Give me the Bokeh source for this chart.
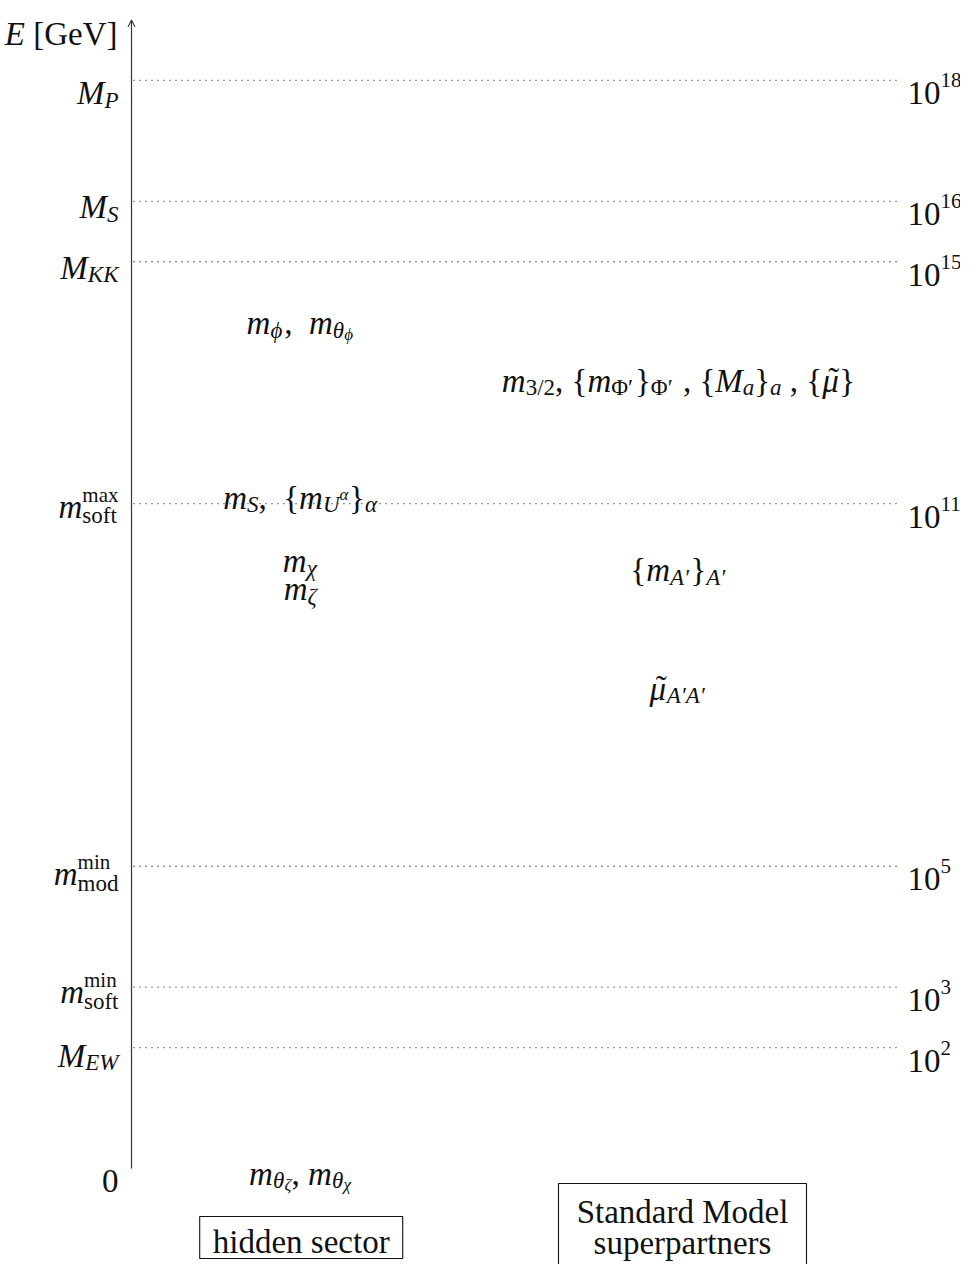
from bokeh.plotting import figure
from bokeh.models import ColumnDataSource, Range1d, Arrow, OpenHead
from bokeh.embed import file_html
from bokeh.resources import INLINE
from bokeh.core.properties import value

# ---------------- data ----------------
# energy scales (log10 E / GeV) marked on the axis
scale_exponents = [18, 16, 15, 11, 5, 3, 2]
scale_names = [
    [("M", "b", "i"), ("P", "sub", "i")],
    [("M", "b", "i"), ("S", "sub", "i")],
    [("M", "b", "i"), ("KK", "sub", "i")],
    [("m", "b", "i"), (("soft", "max"), "subsup", "n")],
    [("m", "b", "i"), (("mod", "min"), "subsup", "n")],
    [("m", "b", "i"), (("soft", "min"), "subsup", "n")],
    [("M", "b", "i"), ("EW", "sub", "i")],
]
exponent_labels = ["18", "16", "15", "11", "5", "3", "2"]
axis_title = [("E", "b", "i"), (" [GeV]", "b", "n")]
axis_top = 19
zero_level = 0
zero_label = "0"

# hidden sector masses
hidden_levels = [14, 11, 10, 10, 0]
hidden_masses = [
    [("m", "b", "i"), ("ϕ", "sub", "i"), (",", "b", "n"), ("  m", "b", "i"), ("θ", "sub", "i"), ("ϕ", "ss", "i")],
    [("m", "b", "i"), ("S", "sub", "i"), (",", "b", "n"), ("  {", "b", "n"), ("m", "b", "i"), ("U", "sub", "i"),
     ("α", "ssup", "i"), ("}", "b", "n"), ("α", "sub", "i")],
    [("m", "b", "i"), ("χ", "sub", "i")],
    [("m", "b", "i"), ("ζ", "sub", "i")],
    [("m", "b", "i"), ("θ", "sub", "i"), ("ζ", "ss", "i"), (",", "b", "n"), (" m", "b", "i"), ("θ", "sub", "i"),
     ("χ", "ss", "i")],
]
# Standard Model superpartner masses
sm_levels = [13, 10, 8]
sm_masses = [
    [("m", "b", "i"), ("3/2", "sub", "n"), (",", "b", "n"), (" {", "b", "n"), ("m", "b", "i"), ("Φ′", "sub", "n"),
     ("}", "b", "n"), ("Φ′", "sub", "n"), (" ,", "b", "n"), (" {", "b", "n"), ("M", "b", "i"), ("a", "sub", "i"),
     ("}", "b", "n"), ("a", "sub", "i"), (" ,", "b", "n"), (" {", "b", "n"), ("μ", "b", "i"), ("˜", "acc", "n"),
     ("}", "b", "n")],
    [("{", "b", "n"), ("m", "b", "i"), ("A′", "sub", "i"), ("}", "b", "n"), ("A′", "sub", "i")],
    [("μ", "b", "i"), ("˜", "acc", "n"), ("A′A′", "sub", "i")],
]
sector_names = [["hidden sector"], ["Standard Model", "superpartners"]]

# ---------------- layout / style ----------------
FONT = "Liberation Serif"
SIZE = {"b": 33, "sub": 23, "sup": 21, "ss": 17, "ssup": 17, "acc": 33}
SHIFT = {"b": 0, "sub": 7, "sup": -13, "ss": 11, "ssup": -3, "acc": -1}
SUBSUP = (9, -12)
W_N = {' ': 250, '[': 333, ']': 333, 'G': 722, 'e': 444, 'V': 722, 'S': 556, 't': 278, 'a': 444, 'n': 500,
       'd': 500, 'r': 333, 'M': 889, 'o': 500, 'l': 278, 's': 389, 'u': 500, 'p': 500, 'h': 500, 'i': 278,
       'c': 444, 'x': 500, 'f': 333, 'm': 778, ',': 250, '/': 278, '{': 480, '}': 480, '′': 275, 'Φ': 760,
       '˜': 333}
for d in "0123456789":
    W_N[d] = 500
W_I = {'E': 611, 'M': 833, 'P': 611, 'K': 667, 'W': 833, 'S': 500, 'm': 722, 'U': 722, 'A': 611, 'a': 500,
       'α': 560, 'χ': 500, 'ζ': 420, 'θ': 500, 'ϕ': 600, 'μ': 520}

PX_PER_DEC = 60.45
ZERO_PY = 1168.0


def ey(py):
    return (ZERO_PY - py) / PX_PER_DEC


def tw(t, size, italic):
    tot = 0
    for c in t:
        if italic and c in W_I:
            tot += W_I[c]
        else:
            tot += W_N.get(c, 500)
    return tot * size / 1000.0


rows = dict(x=[], y=[], text=[], dx=[], dy=[], size=[], style=[])


def place(segs, x, y, align, base_dy):
    items = []
    cur = 0.0
    last = (0.0, 0.0)
    for t, pos, st in segs:
        it = st == "i"
        if pos == "subsup":
            sub, sup = t
            w1 = tw(sub, SIZE["sub"], it)
            w2 = tw(sup, SIZE["sup"], it)
            items.append((sub, cur, SUBSUP[0], SIZE["sub"], it))
            items.append((sup, cur, SUBSUP[1], SIZE["sup"], it))
            last = (cur, max(w1, w2))
            cur += max(w1, w2)
        elif pos == "acc":
            s = SIZE[pos]
            w = tw(t, s, it)
            items.append((t, last[0] + last[1] / 2 - w / 2 + 3, SHIFT[pos], s, it))
        else:
            s = SIZE[pos]
            lead = len(t) - len(t.lstrip(" "))
            x0 = cur + tw(" " * lead, s, it)
            items.append((t.strip(" "), x0, SHIFT[pos], s, it))
            last = (x0, tw(t.strip(" "), s, it))
            cur += tw(t, s, it)
    start = {"left": 0.0, "right": -cur, "center": -cur / 2.0}[align]
    for t, ox, oy, s, it in items:
        rows["x"].append(x)
        rows["y"].append(y)
        rows["text"].append(t)
        rows["dx"].append(start + ox)
        rows["dy"].append(base_dy + oy)
        rows["size"].append(f"{s}px")
        rows["style"].append("italic" if it else "normal")


AX_X = 131
LEFT_X = 118
RIGHT_X = 907
LINE_END = 900
HID_X = 300
SM_X = 678

left_dy = [13, 6, 6, 3, 8, 5, 8]
for lev, segs, bdy in zip(scale_exponents, scale_names, left_dy):
    place(segs, LEFT_X, lev, "right", bdy)
for lev, ex in zip(scale_exponents, exponent_labels):
    place([("10", "b", "n"), (ex, "sup", "n")], RIGHT_X, lev, "left", 13)
place(axis_title, 117, axis_top, "right", 14.5)
place([(zero_label, "b", "n")], LEFT_X, zero_level, "right", 12)

hid_dy = [1, -6, -3, 25, 5]
for lev, segs, bdy in zip(hidden_levels, hidden_masses, hid_dy):
    place(segs, HID_X, lev, "center", bdy)
sm_dy = [-2, 6, 4]
for lev, segs, bdy in zip(sm_levels, sm_masses, sm_dy):
    place(segs, SM_X, lev, "center", bdy)

# sector boxes
box_x = [300.7, 682]
box_cy = [ey(1237), ey(1230)]
box_w = [203, 248]
box_h = [42, 94]
box_text_py = [[1241], [1211, 1242]]
for bx, names, pys in zip(box_x, sector_names, box_text_py):
    for nm, py in zip(names, pys):
        place([(nm, "b", "n")], bx, ey(py), "center", 0)

# ---------------- figure ----------------
W, H = 960, 1264
p = figure(width=W, height=H, output_backend="svg", toolbar_location=None,
           x_range=Range1d(0, W), y_range=Range1d(ey(H), ey(0)),
           x_axis_location=None, y_axis_location=None, min_border=0,
           outline_line_color=None, background_fill_color="white", border_fill_color="white")
p.xgrid.visible = False
p.ygrid.visible = False

# dotted level lines
p.segment(x0=AX_X + 2, y0=scale_exponents, x1=LINE_END, y1=scale_exponents,
          line_color="#333333", line_width=1.3, line_dash="1 5")

# energy axis with arrow
p.add_layout(Arrow(end=OpenHead(size=7, line_width=1.1, line_color="#333333"),
                   x_start=AX_X, y_start=zero_level, x_end=AX_X, y_end=axis_top,
                   line_color="#333333", line_width=1.2))

p.rect(x=box_x, y=box_cy, width=box_w, height=box_h, width_units="screen", height_units="screen",
       fill_color=None, line_color="#111111", line_width=1.1)

src = ColumnDataSource(rows)
p.text(x="x", y="y", text="text", x_offset="dx", y_offset="dy", source=src,
       text_font=value(FONT), text_font_size="size", text_font_style="style",
       text_align="left", text_baseline="alphabetic", text_color="#111111")

open("out.html", "w").write(file_html(p, INLINE))
